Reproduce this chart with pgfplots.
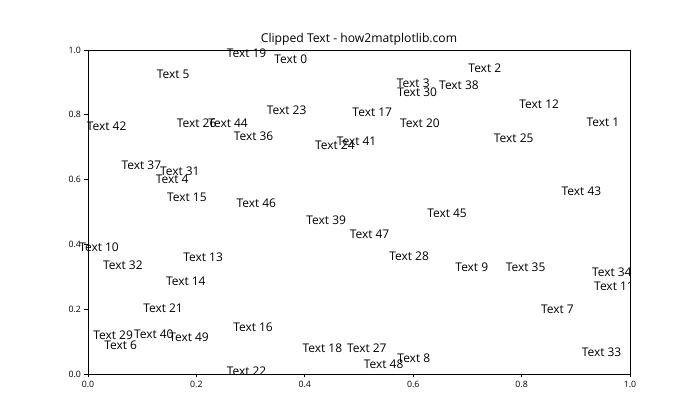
\documentclass[border=0pt]{standalone}
\usepackage{pgfplots}
\pgfplotsset{compat=1.18}
\usepackage{pgfplotstable}
\usepackage{fontspec}
\setmainfont{Open Sans}
\pgfplotstableread{
n x y
19 0.256 0.976
0 0.344 0.958
5 0.127 0.913
23 0.330 0.802
42 -0.002 0.750
26 0.164 0.761
44 0.222 0.761
36 0.269 0.720
24 0.419 0.694
37 0.062 0.630
31 0.133 0.614
4 0.125 0.588
15 0.146 0.532
46 0.274 0.514
2 0.702 0.930
3 0.570 0.885
30 0.571 0.856
38 0.648 0.879
12 0.796 0.820
17 0.488 0.794
20 0.576 0.761
1 0.920 0.763
25 0.749 0.716
41 0.459 0.704
43 0.874 0.550
45 0.626 0.484
39 0.403 0.460
47 0.483 0.419
10 -0.016 0.377
32 0.028 0.323
13 0.176 0.347
14 0.144 0.273
21 0.102 0.189
16 0.268 0.131
29 0.010 0.105
40 0.085 0.109
49 0.150 0.100
6 0.030 0.077
18 0.396 0.067
22 0.256 -0.005
28 0.556 0.350
9 0.678 0.316
35 0.771 0.316
34 0.930 0.300
11 0.934 0.259
7 0.836 0.187
27 0.478 0.067
33 0.911 0.053
8 0.571 0.036
48 0.509 0.018
}\labels
\begin{document}
\begin{tikzpicture}
\begin{axis}[
  name=ax,
  at={(0,0)}, anchor=south west,
  scale only axis,
  width=542bp, height=324bp,
  xmin=0, xmax=1, ymin=0, ymax=1,
  clip=false,
  xtick={0,0.2,0.4,0.6,0.8,1.0},
  ytick={0,0.2,0.4,0.6,0.8,1.0},
  xtick pos=bottom, ytick pos=left,
  tick align=outside,
  major tick length=3.5bp,
  /pgf/number format/assume math mode=true,
  /pgf/number format/.cd, fixed, fixed zerofill, precision=1, /pgfplots/.cd,
  tick label style={font=\fontsize{8.8}{10}\selectfont},
  axis line style={line width=0.8pt},
  tick style={line width=0.8pt, black},
  title={Clipped Text - how2matplotlib.com},
  title style={font=\fontsize{12.2}{14}\selectfont, yshift=-5bp},
]
\addplot[only marks, mark=none,
  point meta=explicit symbolic,
  nodes near coords={Text \pgfplotspointmeta},
  nodes near coords align={anchor=base west},
  every node near coord/.append style={anchor=base west, inner sep=0pt, outer sep=0pt, font=\fontsize{12}{14}\selectfont, black},
] table[x=x, y=y, meta=n] {\labels};
\end{axis}
\path (ax.south west) ++(-88bp,-46bp) rectangle ++(700bp,420bp);
\end{tikzpicture}
\end{document}
